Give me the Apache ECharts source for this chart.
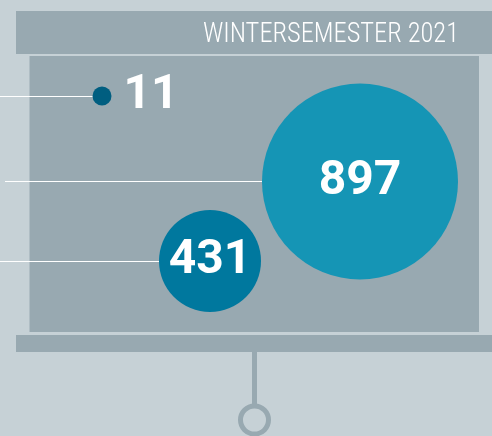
<!DOCTYPE html>
<html><head><meta charset="utf-8">
<script src="https://cdn.jsdelivr.net/npm/echarts@6/dist/echarts.min.js"></script>
<style>html,body{margin:0;padding:0;background:#c6d1d6}#c{width:492px;height:436px}</style>
</head><body><div id="c"></div>
<script>
// ---- data ----
const title = 'WINTERSEMESTER 2021';
const values = [11, 897, 431];
const bubbleX = [102, 360, 210];     // horizontal placement (axis units)
const bubbleY = [96, 181.5, 261];    // row placement (axis units)
const leaderStart = [0, 5, 0];       // where each leader line begins

// ---- styling ----
const bubbleDiameter = [19, 196, 102];
const bubbleColor = ['#005e80', '#1595b5', '#00789e'];
const boardColor = '#98a9b1';

const chart = echarts.init(document.getElementById('c'), null, {renderer: 'canvas'});
const points = values.map((v, i) => ({
  value: [bubbleX[i], bubbleY[i], v],
  symbolSize: bubbleDiameter[i],
  itemStyle: {color: bubbleColor[i]},
  label: i === 0 ? {position: 'right', distance: 12} : {position: 'inside'}
}));
const leaders = values.map((v, i) => ({coords: [[leaderStart[i], bubbleY[i]], [bubbleX[i], bubbleY[i]]]}));

chart.setOption({
  backgroundColor: '#c6d1d6',
  animation: false,
  grid: {left: 0, right: 0, top: 0, bottom: 0},
  xAxis: {type: 'value', min: 0, max: 492, show: false},
  yAxis: {type: 'value', min: 0, max: 436, inverse: true, show: false},
  graphic: {elements: [
    {type: 'rect', z: 0, shape: {x: 16, y: 11, width: 476, height: 43}, style: {fill: boardColor}},
    {type: 'rect', z: 0, shape: {x: 29.5, y: 56, width: 449.5, height: 276}, style: {fill: boardColor}},
    {type: 'rect', z: 0, shape: {x: 16, y: 335, width: 476, height: 17}, style: {fill: boardColor}},
    {type: 'rect', z: 0, shape: {x: 252, y: 352, width: 5, height: 54}, style: {fill: boardColor}},
    {type: 'circle', z: 0, shape: {cx: 254.5, cy: 420, r: 14}, style: {fill: 'none', stroke: boardColor, lineWidth: 5}},
    {type: 'text', z: 1, x: 459, y: 35.5, scaleX: 0.985, style: {text: title, fill: '#ffffff', font: '300 26.8px "Roboto Condensed"', textAlign: 'right', textVerticalAlign: 'middle'}}
  ]},
  series: [
    {type: 'lines', coordinateSystem: 'cartesian2d', z: 3, silent: true,
     lineStyle: {color: '#ffffff', width: 1.2, opacity: 1}, data: leaders},
    {type: 'scatter', z: 5, symbol: 'circle', data: points,
     itemStyle: {opacity: 1},
     label: {show: true, formatter: p => p.value[2], color: '#ffffff',
             fontFamily: 'Roboto', fontWeight: 'bold', fontSize: 48}}
  ]
});
</script></body></html>
